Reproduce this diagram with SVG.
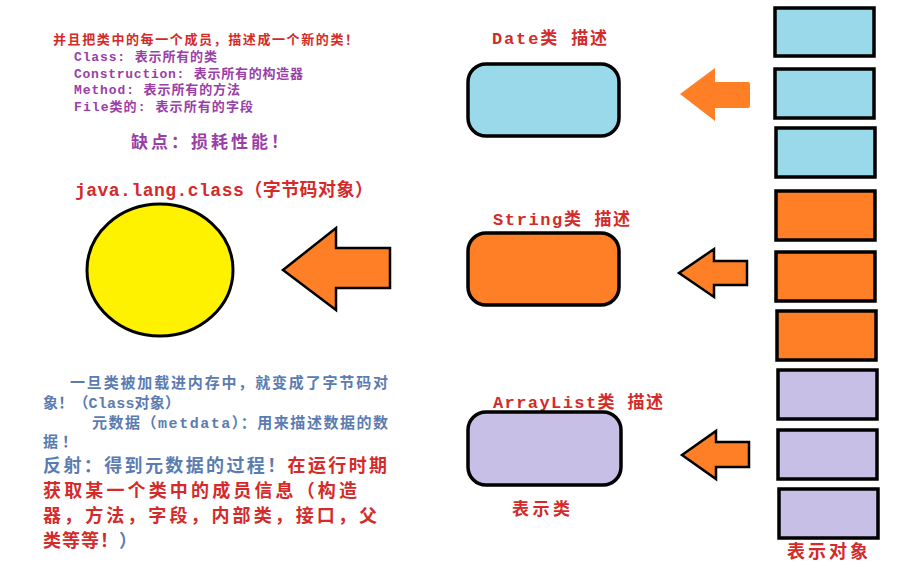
<svg xmlns="http://www.w3.org/2000/svg" width="912" height="587" viewBox="0 0 912 587">
<style>
text{font-family:"Liberation Mono","Noto Sans CJK SC",monospace;font-weight:bold}
.red{fill:#d42a2a}
.pur{fill:#9a3ea8}
.blu{fill:#5b7cb0}
.obj{stroke:#000;stroke-width:3.5}
.cls{stroke:#000;stroke-width:3.5}
.a1{fill:#ff7f27}
.a2{fill:#ff7f27;stroke:#000;stroke-width:2.5;stroke-linejoin:miter}
</style>
<rect width="912" height="587" fill="#fff"/>
<g id="notes-top">
<text class="red" x="53" y="44" font-size="13" textLength="305" lengthAdjust="spacing">并且把类中的每一个成员，描述成一个新的类！</text>
<text class="pur" x="74" y="61" font-size="13" textLength="143" lengthAdjust="spacing">Class: 表示所有的类</text>
<text class="pur" x="74" y="78" font-size="13" textLength="229" lengthAdjust="spacing">Construction: 表示所有的构造器</text>
<text class="pur" x="74" y="94" font-size="13" textLength="166" lengthAdjust="spacing">Method: 表示所有的方法</text>
<text class="pur" x="74" y="111" font-size="13" textLength="179" lengthAdjust="spacing">File类的: 表示所有的字段</text>
<text class="pur" x="131" y="148" font-size="17" textLength="157" lengthAdjust="spacing">缺点：损耗性能！</text>
</g>
<g id="class-object">
<text class="red" x="75" y="196" font-size="18" textLength="298" lengthAdjust="spacing">java.lang.class（字节码对象）</text>
<ellipse cx="160" cy="270" rx="73" ry="66" fill="#fff200" stroke="#000" stroke-width="3"/>
</g>
<g id="notes-bottom">
<text class="blu" x="70" y="388" font-size="15" textLength="318" lengthAdjust="spacing">一旦类被加载进内存中，就变成了字节码对</text>
<text class="blu" x="43" y="408" font-size="15" textLength="137" lengthAdjust="spacing">象！（Class对象）</text>
<text class="blu" x="92" y="428" font-size="15" textLength="296" lengthAdjust="spacing">元数据（metdata）：用来描述数据的数</text>
<text class="blu" x="43" y="447" font-size="15" textLength="34" lengthAdjust="spacing">据！</text>
<text x="43" y="472" font-size="18" textLength="344" lengthAdjust="spacing"><tspan class="blu">反射：得到元数据的过程！</tspan><tspan class="red">在运行时期</tspan></text>
<text class="red" x="43" y="497" font-size="18" textLength="314" lengthAdjust="spacing">获取某一个类中的成员信息（构造</text>
<text class="red" x="43" y="522" font-size="18" textLength="334" lengthAdjust="spacing">器，方法，字段，内部类，接口，父</text>
<text x="43" y="547" font-size="18" textLength="94" lengthAdjust="spacing"><tspan class="red">类等等！</tspan><tspan class="blu">）</tspan></text>
</g>
<g id="date-class">
<text class="red" x="492" y="44" font-size="17" textLength="115" lengthAdjust="spacing">Date类 描述</text>
<rect class="cls" x="468" y="64" width="151" height="72" rx="18" fill="#99d9ea"/>
</g>
<g id="string-class">
<text class="red" x="493" y="225" font-size="17" textLength="137" lengthAdjust="spacing">String类 描述</text>
<rect class="cls" x="468" y="233" width="151" height="72" rx="18" fill="#ff7f27"/>
</g>
<g id="arraylist-class">
<text class="red" x="493" y="408" font-size="17" textLength="170" lengthAdjust="spacing">ArrayList类 描述</text>
<rect class="cls" x="468" y="412" width="153" height="73" rx="18" fill="#c8bfe7"/>
<text class="red" x="512" y="515" font-size="17" textLength="58" lengthAdjust="spacing">表示类</text>
</g>
<g id="objects">
<rect class="obj" x="775" y="8" width="99" height="48" fill="#99d9ea"/>
<rect class="obj" x="775" y="69" width="99" height="49" fill="#99d9ea"/>
<rect class="obj" x="776" y="128" width="99" height="49" fill="#99d9ea"/>
<rect class="obj" x="776" y="191" width="99" height="49" fill="#ff7f27"/>
<rect class="obj" x="776" y="252" width="99" height="49" fill="#ff7f27"/>
<rect class="obj" x="777" y="311" width="99" height="49" fill="#ff7f27"/>
<rect class="obj" x="778" y="370" width="99" height="49" fill="#c8bfe7"/>
<rect class="obj" x="778" y="430" width="99" height="49" fill="#c8bfe7"/>
<rect class="obj" x="779" y="489" width="99" height="49" fill="#c8bfe7"/>
<text class="red" x="787" y="558" font-size="18" textLength="81" lengthAdjust="spacing">表示对象</text>
</g>
<g id="connectors">
<path class="a1" d="M680,94 L715,68 L715,82 L748,82 Q750,82 750,84 L750,106 Q750,108 748,108 L715,108 L715,121 Z"/>
<path class="a2" d="M679,273 L714,249 L714,261 L747,261 L747,285 L714,285 L714,297 Z"/>
<path class="a2" d="M682,455 L716,431 L716,442 L749,442 L749,467 L716,467 L716,479 Z"/>
<path class="a2" d="M283,270 L336,228 L336,248 L390,248 L390,288 L336,288 L336,310 Z"/>
</g>
</svg>
